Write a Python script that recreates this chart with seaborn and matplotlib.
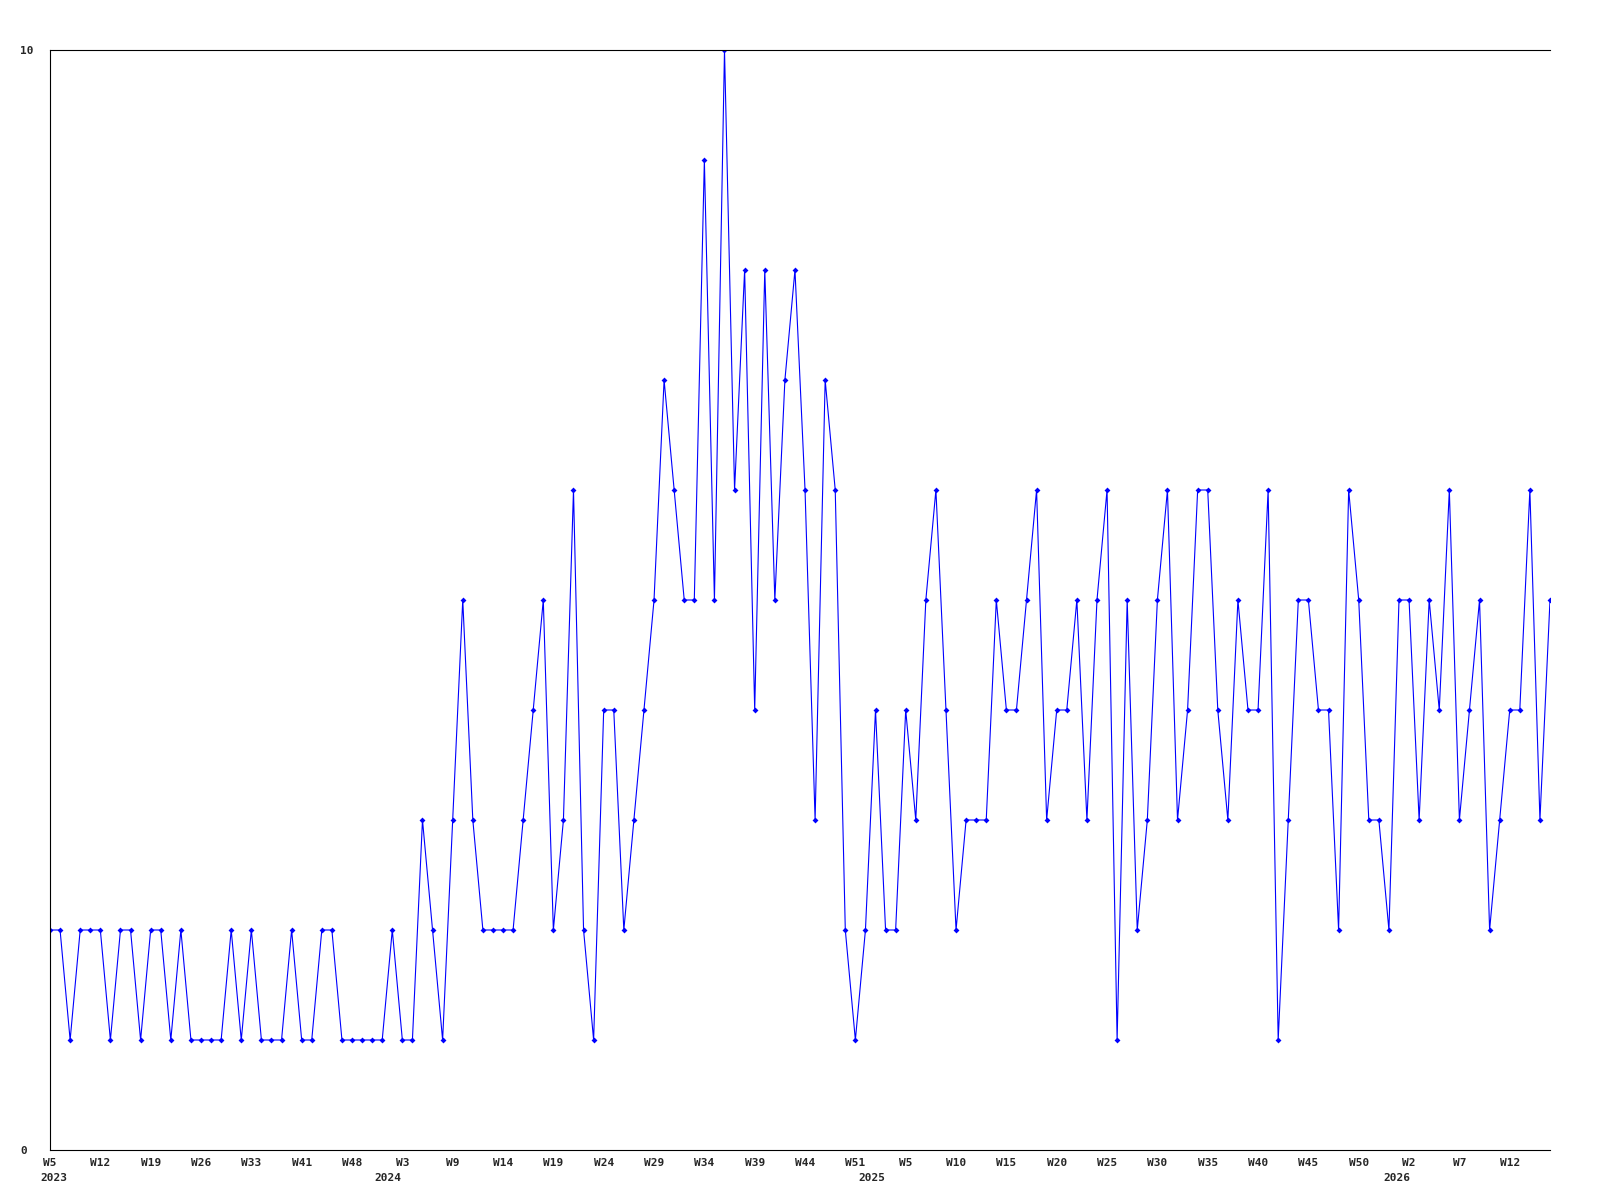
import pandas as pd
import matplotlib.pyplot as plt
import seaborn as sns


# Valores semanais (um ponto por registro)
valores = [
    2, 2, 1, 2, 2, 2, 1, 2, 2, 1,
    2, 2, 1, 2, 1, 1, 1, 1, 2, 1,
    2, 1, 1, 1, 2, 1, 1, 2, 2, 1,
    1, 1, 1, 1, 2, 1, 1, 3, 2, 1,
    3, 5, 3, 2, 2, 2, 2, 3, 4, 5,
    2, 3, 6, 2, 1, 4, 4, 2, 3, 4,
    5, 7, 6, 5, 5, 9, 5, 10, 6, 8,
    4, 8, 5, 7, 8, 6, 3, 7, 6, 2,
    1, 2, 4, 2, 2, 4, 3, 5, 6, 4,
    2, 3, 3, 3, 5, 4, 4, 5, 6, 3,
    4, 4, 5, 3, 5, 6, 1, 5, 2, 3,
    5, 6, 3, 4, 6, 6, 4, 3, 5, 4,
    4, 6, 1, 3, 5, 5, 4, 4, 2, 6,
    5, 3, 3, 2, 5, 5, 3, 5, 4, 6,
    3, 4, 5, 2, 3, 4, 4, 6, 3, 5,
]

# Rotulos do eixo x (um a cada 5 pontos)
rotulos_semana = [
    "W5", "W12", "W19", "W26", "W33", "W41", "W48",
    "W3", "W9", "W14", "W19", "W24", "W29", "W34", "W39", "W44", "W51",
    "W5", "W10", "W15", "W20", "W25", "W30", "W35", "W40", "W45", "W50",
    "W2", "W7", "W12",
]
anos = ["2023", "2024", "2025", "2026"]
passo = 5

df = pd.DataFrame({'ponto': range(len(valores)), 'valor': valores})

sns.set_style('white')
plt.rcParams['font.family'] = ['DejaVu Sans Mono']

fig = plt.figure(figsize=(16, 12), dpi=100)
ax = fig.add_axes([50 / 1600, 50 / 1200, 1500 / 1600, 1100 / 1200])

sns.lineplot(data=df, x='ponto', y='valor', ax=ax, color='#0000FF',
             linewidth=0.8, marker='D', markersize=3, markeredgewidth=0)

ax.set_xlim(0, len(valores) - 1)
ax.set_ylim(0, 10)
ax.set_xlabel('')
ax.set_ylabel('')

# Eixo x: semanas
ax.set_xticks(range(0, len(valores), passo))
ax.set_xticklabels(rotulos_semana, fontsize=8, fontweight='bold')
ax.tick_params(axis='x', length=0, pad=5.5)

# Eixo y: apenas 0 e 10, alinhados a esquerda
ax.set_yticks([0, 10])
ax.set_yticklabels(['0', '10'], fontsize=8, fontweight='bold')
ax.tick_params(axis='y', length=0, pad=21.6)
for lab in ax.get_yticklabels():
    lab.set_horizontalalignment('left')

# Anos abaixo das semanas (posicionados na semana 1 de cada ano)
semanas = [int(r[1:]) for r in rotulos_semana]
posicoes_ano = []
for k in range(1, len(semanas)):
    if semanas[k] < semanas[k - 1]:
        antes = 52 - semanas[k - 1] + 1
        total = 52 - semanas[k - 1] + semanas[k]
        posicoes_ano.append((k - 1) * passo + passo * antes / total)

ax.annotate(anos[0], xy=(0, 0), xycoords=('data', 'axes fraction'),
            xytext=(-7, -16.5), textcoords='offset points', ha='left', va='top',
            fontsize=8, fontweight='bold', annotation_clip=False)
for ano, pos in zip(anos[1:], posicoes_ano):
    ax.annotate(ano, xy=(pos, 0), xycoords=('data', 'axes fraction'),
                xytext=(0, -16.5), textcoords='offset points', ha='center', va='top',
                fontsize=8, fontweight='bold', annotation_clip=False)

# Bordas
ax.spines['right'].set_visible(False)
for lado in ['top', 'left', 'bottom']:
    ax.spines[lado].set_color('black')
    ax.spines[lado].set_linewidth(0.8)

plt.savefig('out.png', dpi=100)
